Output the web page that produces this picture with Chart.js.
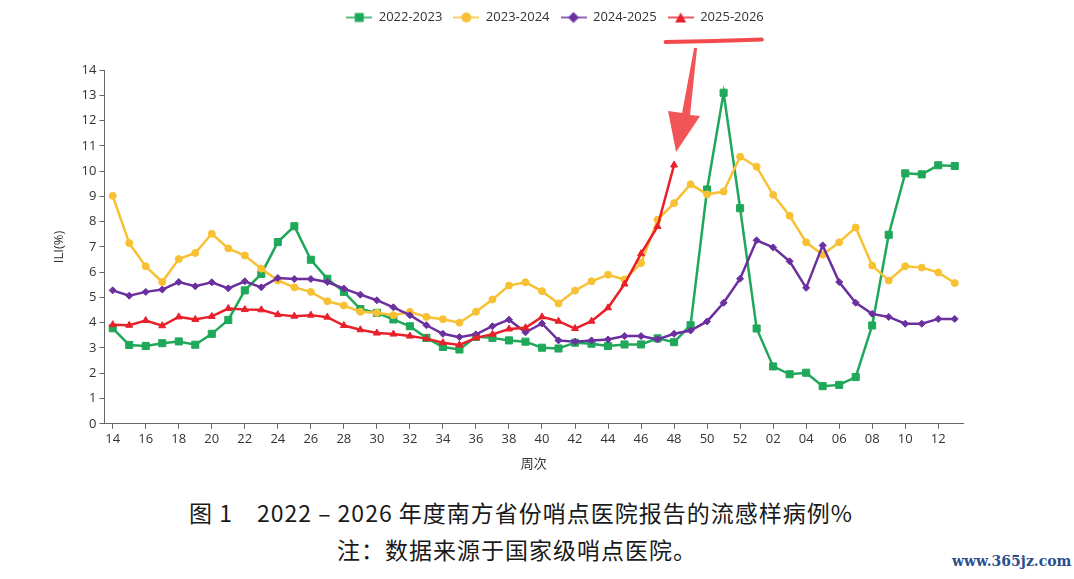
<!DOCTYPE html>
<html lang="zh-CN">
<head>
<meta charset="utf-8">
<script src="https://cdn.jsdelivr.net/npm/chart.js@4.4.1/dist/chart.umd.min.js"></script>
<style>
  html, body { margin: 0; padding: 0; background: #fff; }
  body { width: 1074px; height: 579px; position: relative; overflow: hidden; font-family: "Noto Sans CJK SC", sans-serif; }
  #wrap { position: absolute; left: 0; top: 0; width: 1074px; height: 480px; }
  .cap { position: absolute; color: #1a1a1a; font-size: 23px; letter-spacing: 1px; white-space: nowrap; }
  #cap1 { left: 189px; top: 495px; }
  #cap2 { left: 337px; top: 532px; }
  #mark { position: absolute; left: 952px; top: 553px; font: bold 14px "DejaVu Serif", serif; color: #2a4f8f; }
</style>
</head>
<body>
<div id="wrap"><canvas id="ili" width="1074" height="480"></canvas></div>
<div class="cap" id="cap1">图 1　2022 – 2026 年度南方省份哨点医院报告的流感样病例%</div>
<div class="cap" id="cap2">注：数据来源于国家级哨点医院。</div>
<div id="mark">www.365jz.com</div>
<script>
// weeks 14 .. 52, then 01 .. 13 of the next year
const weeks = ['14','15','16','17','18','19','20','21','22','23','24','25','26','27','28','29','30','31','32','33',
  '34','35','36','37','38','39','40','41','42','43','44','45','46','47','48','49','50','51','52',
  '01','02','03','04','05','06','07','08','09','10','11','12','13'];

const s2022 = [3.78,3.12,3.08,3.19,3.26,3.13,3.56,4.11,5.28,5.93,7.19,7.82,6.49,5.74,5.22,4.54,4.39,4.13,3.86,3.40,
  3.04,2.94,3.44,3.40,3.30,3.25,3.01,2.98,3.21,3.17,3.08,3.14,3.14,3.38,3.23,3.90,9.27,13.10,8.53,
  3.77,2.27,1.96,2.02,1.49,1.54,1.85,3.89,7.48,9.91,9.87,10.23,10.20];
const s2023 = [9.02,7.15,6.23,5.61,6.52,6.76,7.52,6.94,6.66,6.14,5.67,5.40,5.22,4.85,4.68,4.43,4.39,4.30,4.43,4.23,
  4.14,4.00,4.43,4.92,5.47,5.60,5.25,4.76,5.27,5.64,5.90,5.71,6.36,8.07,8.73,9.48,9.08,9.19,10.57,
  10.17,9.06,8.23,7.18,6.69,7.18,7.77,6.26,5.67,6.23,6.18,5.99,5.57];
const s2024 = [5.28,5.07,5.22,5.31,5.61,5.44,5.60,5.36,5.64,5.40,5.77,5.73,5.73,5.61,5.35,5.11,4.89,4.61,4.30,3.90,
  3.56,3.43,3.54,3.86,4.12,3.62,3.97,3.30,3.25,3.30,3.34,3.47,3.47,3.34,3.56,3.69,4.05,4.79,5.74,
  7.26,6.98,6.43,5.38,7.06,5.61,4.79,4.35,4.23,3.96,3.96,4.15,4.15];
const s2025 = [3.92,3.90,4.09,3.88,4.23,4.13,4.25,4.56,4.52,4.51,4.32,4.26,4.30,4.22,3.89,3.72,3.59,3.55,3.47,3.37,
  3.21,3.12,3.40,3.54,3.75,3.80,4.23,4.06,3.77,4.06,4.59,5.53,6.73,7.81,10.24];

const seasons = ['2022-2023', '2023-2024', '2024-2025', '2025-2026'];

const GREEN = '#1fa85a', YELLOW = '#f8c134', PURPLE = '#6b2f9f', RED = '#e8202a';
const TXT = '#333';
const FONT = "'Open Sans', 'Noto Sans CJK SC', sans-serif";

// small line + marker picture for the legend
function legendIcon(color, style) {
  const c = document.createElement('canvas');
  c.width = 26; c.height = 12;
  const g = c.getContext('2d');
  g.strokeStyle = color; g.lineWidth = 1.5;
  g.beginPath(); g.moveTo(0, 6); g.lineTo(26, 6); g.stroke();
  g.fillStyle = color;
  g.beginPath();
  if (style === 'rect') g.rect(8.5, 1.5, 9, 9);
  else if (style === 'circle') g.arc(13, 6, 5, 0, Math.PI * 2);
  else if (style === 'rectRot') { g.moveTo(13, 0.5); g.lineTo(18.5, 6); g.lineTo(13, 11.5); g.lineTo(7.5, 6); g.closePath(); }
  else { g.moveTo(13, 1); g.lineTo(18.5, 11); g.lineTo(7.5, 11); g.closePath(); }
  g.fill();
  return c;
}

function line(label, data, color, style, radius, order) {
  return {
    label, data, order,
    borderColor: color, backgroundColor: color,
    borderWidth: 2.5, tension: 0,
    pointStyle: style, pointRadius: radius,
    pointBackgroundColor: color, pointBorderColor: color, pointBorderWidth: 1,
    icon: legendIcon(color, style)
  };
}

// red hand-drawn marks: underline under the legend entry and arrow to the last red point
const annotate = {
  id: 'annotate',
  afterLayout(chart) {
    const lg = chart.legend;
    const dx = 555 - (lg.left + lg.right) / 2;
    lg.left += dx; lg.right += dx;
    const h = lg.bottom - lg.top;
    lg.top = 0; lg.bottom = h;
  },
  afterDraw(chart) {
    const ctx = chart.ctx;
    const hb = chart.legend.legendHitBoxes[3];
    ctx.save();
    ctx.strokeStyle = '#f24a4c';
    ctx.lineCap = 'round';
    ctx.lineWidth = 4;
    const uy = hb.top + 30;
    ctx.beginPath();
    ctx.moveTo(hb.left - 2, uy + 1);
    ctx.quadraticCurveTo(hb.left + hb.width / 2, uy, hb.left + hb.width - 2, uy - 1.5);
    ctx.stroke();

    const meta = chart.getDatasetMeta(3);
    const p = meta.data[meta.data.length - 1];
    const x = p.x, y = p.y;
    ctx.fillStyle = '#f25558';
    ctx.beginPath();
    ctx.moveTo(x + 20, y - 117);
    ctx.lineTo(x + 23, y - 117);
    ctx.lineTo(x + 16, y - 50);
    ctx.lineTo(x + 26, y - 49);
    ctx.lineTo(x + 2, y - 13);
    ctx.lineTo(x - 6, y - 54);
    ctx.lineTo(x + 8, y - 52);
    ctx.closePath();
    ctx.fill();
    ctx.restore();
  }
};

new Chart(document.getElementById('ili'), {
  type: 'line',
  data: {
    labels: weeks,
    datasets: [
      line(seasons[0], s2022, GREEN, 'rect', 5, 3),
      line(seasons[1], s2023, YELLOW, 'circle', 3.5, 2),
      line(seasons[2], s2024, PURPLE, 'rectRot', 3.5, 1),
      line(seasons[3], s2025, RED, 'triangle', 4, 0)
    ]
  },
  options: {
    responsive: false,
    animation: false,
    layout: { padding: { left: 51, right: 111, top: 36, bottom: 8 } },
    plugins: {
      tooltip: { enabled: false },
      legend: {
        position: 'top',
        labels: {
          usePointStyle: true,
          pointStyleWidth: 26,
          padding: 11,
          color: TXT,
          font: { family: FONT, size: 13 },
          generateLabels: chart => chart.data.datasets.map((ds, i) => ({
            text: ds.label,
            pointStyle: ds.icon,
            fillStyle: ds.borderColor,
            strokeStyle: ds.borderColor,
            lineWidth: 0,
            fontColor: TXT,
            hidden: !chart.isDatasetVisible(i),
            datasetIndex: i
          }))
        }
      }
    },
    scales: {
      x: {
        offset: true,
        grid: {
          offset: false,
          drawOnChartArea: false,
          tickLength: 5,
          color: c => c.index % 2 === 0 ? '#666' : 'rgba(0,0,0,0)'
        },
        border: { color: '#666', width: 1 },
        ticks: {
          autoSkip: false, maxRotation: 0, padding: 3,
          color: TXT, font: { family: FONT, size: 13 },
          callback: (v, i) => i % 2 === 0 ? weeks[i] : ''
        },
        title: { display: true, text: '周次', color: TXT, font: { family: FONT, size: 13 }, padding: { top: 6, bottom: 0 } }
      },
      y: {
        min: 0, max: 14,
        grid: { drawOnChartArea: false, tickLength: 5, color: '#666' },
        border: { color: '#666', width: 1 },
        ticks: { stepSize: 1, padding: 3, color: TXT, font: { family: FONT, size: 13 } },
        title: { display: true, text: 'ILI(%)', color: TXT, font: { family: FONT, size: 13 }, padding: { top: 0, bottom: 12 } }
      }
    }
  },
  plugins: [annotate]
});
</script>
</body>
</html>
